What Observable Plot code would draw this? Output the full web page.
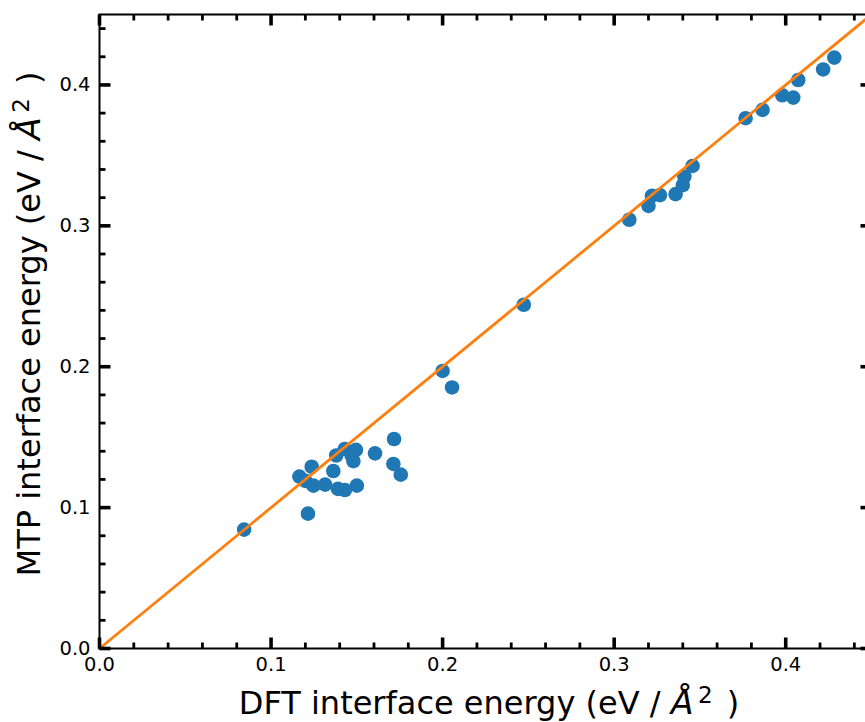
<!DOCTYPE html>
<html>
<head>
<meta charset="utf-8">
<script src="https://cdn.jsdelivr.net/npm/d3@7"></script>
<script src="https://cdn.jsdelivr.net/npm/@observablehq/plot@0.6"></script>
<style>
  html, body { margin: 0; padding: 0; overflow: hidden; background: #fff; }
  #chart { width: 865px; height: 722px; overflow: hidden; }
  #chart svg { display: block; max-width: none !important; }
</style>
</head>
<body>
<div id="chart"></div>
<script>
// DFT (x) vs MTP (y) interface energies, eV / Å^2
const dftEnergy = [0.0843, 0.1215, 0.1165, 0.1237, 0.1200, 0.1247, 0.1315, 0.1363, 0.1390, 0.1430,
  0.1500, 0.1380, 0.1430, 0.1470, 0.1495, 0.1480, 0.1606, 0.1717, 0.1713, 0.1756,
  0.2000, 0.2055, 0.2473, 0.3088, 0.3200, 0.3220, 0.3267, 0.3358, 0.3400, 0.3409,
  0.3457, 0.3766, 0.3865, 0.3980, 0.4044, 0.4073, 0.4218, 0.4283];
const mtpEnergy = [0.0844, 0.0957, 0.1220, 0.1290, 0.1190, 0.1156, 0.1163, 0.1260, 0.1133, 0.1125,
  0.1156, 0.1370, 0.1416, 0.1370, 0.1410, 0.1330, 0.1385, 0.1487, 0.1310, 0.1234,
  0.1970, 0.1853, 0.2440, 0.3043, 0.3142, 0.3213, 0.3218, 0.3225, 0.3289, 0.3350,
  0.3425, 0.3764, 0.3823, 0.3927, 0.3910, 0.4035, 0.4110, 0.4194];

// parity line y = x
const parityX = [0, 0.45];

const axisDomain = [0, 0.45];
const majorTicks = [0, 0.1, 0.2, 0.3, 0.4];
const minorTicks = [0.02, 0.04, 0.06, 0.08, 0.12, 0.14, 0.16, 0.18, 0.22, 0.24, 0.26, 0.28,
  0.32, 0.34, 0.36, 0.38, 0.42, 0.44];

const xLabelMain = "DFT interface energy (eV / ";
const yLabelMain = "MTP interface energy (eV / ";

const points = dftEnergy.map((x, i) => ({x, y: mtpEnergy[i]}));
const parity = parityX.map(v => ({x: v, y: v}));

const up = {draw(c, l) { c.moveTo(0, 0); c.lineTo(0, -l); }};
const down = {draw(c, l) { c.moveTo(0, 0); c.lineTo(0, l); }};
const toRight = {draw(c, l) { c.moveTo(0, 0); c.lineTo(l, 0); }};
const toLeft = {draw(c, l) { c.moveTo(0, 0); c.lineTo(-l, 0); }};

function tickMarks(values, len, sw) {
  const common = {anchor: "start", length: len, stroke: "black", strokeWidth: sw, strokeLinecap: "butt"};
  return [
    Plot.vector(values, {x: d => d, frameAnchor: "bottom", shape: up, ...common}),
    Plot.vector(values, {x: d => d, frameAnchor: "top", shape: down, ...common}),
    Plot.vector(values, {y: d => d, frameAnchor: "left", shape: toRight, ...common}),
    Plot.vector(values, {y: d => d, frameAnchor: "right", shape: toLeft, ...common})
  ];
}

const W = 880, H = 722;
const chart = Plot.plot({
  width: W,
  height: H,
  marginLeft: 99,
  marginRight: 9,
  marginTop: 14,
  marginBottom: 74,
  style: {fontFamily: "DejaVu Sans", background: "white", color: "black", overflow: "visible", maxWidth: "none"},
  x: {domain: axisDomain},
  y: {domain: axisDomain},
  marks: [
    Plot.dot(points, {x: "x", y: "y", r: 7.3, fill: "#1f77b4", stroke: "none"}),
    Plot.line(parity, {x: "x", y: "y", stroke: "#ff7f0e", strokeWidth: 2.8}),
    Plot.frame({stroke: "black", strokeWidth: 2}),
    ...tickMarks(minorTicks, 6, 2.8),
    ...tickMarks(majorTicks, 11, 3.6),
    Plot.axisX(majorTicks, {anchor: "bottom", tickSize: 0, tickPadding: 9, fontSize: 19.5, tickFormat: d3.format(".1f"), label: null}),
    Plot.axisY(majorTicks, {anchor: "left", tickSize: 0, tickPadding: 9, fontSize: 19.5, tickFormat: d3.format(".1f"), label: null})
  ]
});
chart.style.maxWidth = "none";
document.getElementById("chart").appendChild(chart);

// axis titles with italic Å and superscript 2
const svg = d3.select(chart);
function addLabel(g, main) {
  g.append("tspan").text(main);
  g.append("tspan").attr("font-style", "italic").attr("font-size", "1.04em").text("Å");
  g.append("tspan").attr("dx", "0.2em").attr("dy", "-0.46em").attr("font-size", "0.72em").text("2");
  g.append("tspan").attr("dx", "0.12em").attr("dy", "0.33em").text("\u00a0)");
}
const xl = svg.append("text")
  .attr("x", 489).attr("y", 714)
  .attr("text-anchor", "middle")
  .attr("font-family", "DejaVu Sans").attr("font-size", 32).attr("fill", "black");
addLabel(xl, xLabelMain);
const yl = svg.append("text")
  .attr("transform", "translate(40,324) rotate(-90)")
  .attr("text-anchor", "middle")
  .attr("font-family", "DejaVu Sans").attr("font-size", 32).attr("fill", "black");
addLabel(yl, yLabelMain);
</script>
</body>
</html>
